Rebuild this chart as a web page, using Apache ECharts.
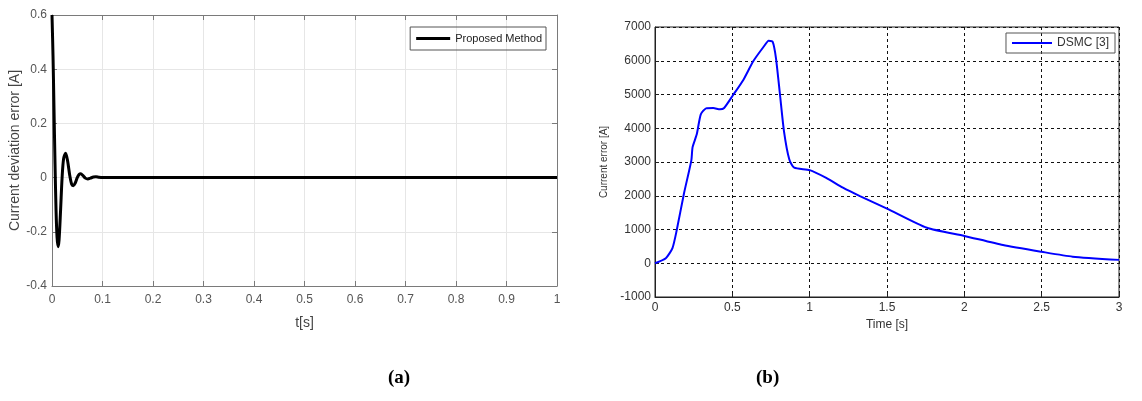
<!DOCTYPE html>
<html>
<head>
<meta charset="utf-8">
<script src="https://cdn.jsdelivr.net/npm/echarts@6/dist/echarts.min.js"></script>
<style>
  html, body { margin: 0; padding: 0; background: #fff; }
  #chart { width: 1142px; height: 401px; }
</style>
</head>
<body>
<div id="chart"></div>
<script>
// (a) proposed method: current deviation error vs time
var timeA = [0, 0.002, 0.004, 0.006, 0.008, 0.010, 0.012, 0.014, 0.017, 0.020, 0.023, 0.027, 0.031, 0.035, 0.039, 0.042, 0.046, 0.050, 0.054, 0.057, 0.061, 0.066, 0.071, 0.076, 0.082, 0.087, 0.093, 0.1, 1];
var errA = [0.6, 0.45, 0.25, 0.05, -0.12, -0.22, -0.255, -0.23, -0.12, 0.0, 0.07, 0.09, 0.06, 0.01, -0.025, -0.03, -0.02, 0.0, 0.012, 0.014, 0.008, -0.002, -0.005, -0.002, 0.002, 0.003, 0.001, 0, 0];

// (b) DSMC [3]: current error vs time
var timeB = [0, 0.07, 0.113, 0.14, 0.187, 0.235, 0.243, 0.27, 0.296, 0.33, 0.377, 0.42, 0.447, 0.503, 0.572, 0.636, 0.7, 0.735, 0.761, 0.782, 0.808, 0.834, 0.868, 0.9, 1.0, 1.107, 1.215, 1.325, 1.5, 1.758, 2.0, 2.25, 2.5, 2.7, 3.0];
var errB = [0, 150, 450, 970, 2060, 3050, 3440, 3820, 4410, 4590, 4600, 4560, 4600, 4970, 5440, 5990, 6400, 6590, 6560, 6080, 5000, 3910, 3080, 2830, 2760, 2530, 2240, 1990, 1620, 1050, 810, 540, 340, 195, 100];

var ticksA_x = [0, 0.1, 1];   // min, interval, max
var ticksA_y = [-0.4, 0.2, 0.6];
var ticksB_x = [0, 0.5, 3];
var ticksB_y = [-1000, 1000, 7000];

function pairs(xs, ys) {
  return xs.map(function (x, i) { return [x, ys[i]]; });
}
function plain(v) { return String(v); }

var narrow = "'Liberation Sans Narrow', 'Liberation Sans', Arial, sans-serif";
var sans = "'Liberation Sans', Arial, sans-serif";
var frameA = '#7a7a7a';

var chart = echarts.init(document.getElementById('chart'));

var option = {
  backgroundColor: '#fff',
  animation: false,
  legend: [{
    data: ['Proposed Method'],
    right: 596, top: 27,
    itemWidth: 34, itemHeight: 3, icon: 'rect',
    borderColor: '#555', borderWidth: 1, padding: [6, 4, 6, 6],
    textStyle: { fontFamily: narrow, fontSize: 11, color: '#222' }
  }, {
    data: ['DSMC [3]'],
    right: 27, top: 33,
    itemWidth: 40, itemHeight: 2, icon: 'rect',
    borderColor: '#555', borderWidth: 1, padding: [4, 6, 4, 6],
    textStyle: { fontFamily: sans, fontSize: 12, color: '#333' }
  }],
  grid: [
    { left: 52, top: 15, width: 505, height: 271, show: false },
    { left: 655, top: 27, width: 464, height: 270, show: true, borderColor: '#222', borderWidth: 1 }
  ],
  xAxis: [{
    gridIndex: 0, type: 'value',
    min: ticksA_x[0], interval: ticksA_x[1], max: ticksA_x[2],
    name: 't[s]', nameLocation: 'middle', nameGap: 30,
    nameTextStyle: { fontFamily: narrow, fontSize: 14, color: '#444' },
    axisLine: { onZero: false, lineStyle: { color: frameA } },
    axisTick: { inside: true, length: 5, lineStyle: { color: frameA } },
    axisLabel: { fontFamily: narrow, fontSize: 12, color: '#555', margin: 8, formatter: plain },
    splitLine: { show: true, lineStyle: { color: '#e6e6e6' } }
  }, {
    gridIndex: 0, type: 'value', position: 'top',
    min: ticksA_x[0], interval: ticksA_x[1], max: ticksA_x[2],
    axisLine: { show: true, onZero: false, lineStyle: { color: frameA } },
    axisTick: { show: true, inside: true, length: 5, lineStyle: { color: frameA } },
    axisLabel: { show: false }, splitLine: { show: false }
  }, {
    gridIndex: 1, type: 'value',
    min: ticksB_x[0], interval: ticksB_x[1], max: ticksB_x[2],
    name: 'Time [s]', nameLocation: 'middle', nameGap: 19,
    nameTextStyle: { fontFamily: sans, fontSize: 12, color: '#333' },
    axisLine: { onZero: false, lineStyle: { color: '#222' } },
    axisTick: { inside: true, length: 4, lineStyle: { color: '#222' } },
    axisLabel: { fontFamily: sans, fontSize: 12, color: '#333', margin: 5, formatter: plain },
    splitLine: { show: true, lineStyle: { color: '#111', type: [3, 3] } }
  }],
  yAxis: [{
    gridIndex: 0, type: 'value',
    min: ticksA_y[0], interval: ticksA_y[1], max: ticksA_y[2],
    name: 'Current deviation error [A]', nameLocation: 'middle', nameGap: 25,
    nameTextStyle: { fontFamily: narrow, fontSize: 14, color: '#444' },
    axisLine: { show: true, onZero: false, lineStyle: { color: frameA } },
    axisTick: { show: true, inside: true, length: 5, lineStyle: { color: frameA } },
    axisLabel: { fontFamily: narrow, fontSize: 12, color: '#555', margin: 5, formatter: plain },
    splitLine: { show: true, lineStyle: { color: '#e6e6e6' } }
  }, {
    gridIndex: 0, type: 'value', position: 'right',
    min: ticksA_y[0], interval: ticksA_y[1], max: ticksA_y[2],
    axisLine: { show: true, onZero: false, lineStyle: { color: frameA } },
    axisTick: { show: true, inside: true, length: 5, lineStyle: { color: frameA } },
    axisLabel: { show: false }, splitLine: { show: false }
  }, {
    gridIndex: 1, type: 'value',
    min: ticksB_y[0], interval: ticksB_y[1], max: ticksB_y[2],
    name: 'Current error [A]', nameLocation: 'middle', nameGap: 46,
    nameTextStyle: { fontFamily: sans, fontSize: 10, color: '#333' },
    axisLine: { show: true, onZero: false, lineStyle: { color: '#222' } },
    axisTick: { show: true, inside: true, length: 4, lineStyle: { color: '#222' } },
    axisLabel: { fontFamily: sans, fontSize: 12, color: '#333', margin: 4, formatter: plain },
    splitLine: { show: true, lineStyle: { color: '#111', type: [3, 3] } }
  }],
  series: [{
    name: 'Proposed Method', type: 'line',
    xAxisIndex: 0, yAxisIndex: 0,
    data: pairs(timeA, errA),
    smooth: 0.3, showSymbol: false,
    color: '#000',
    lineStyle: { color: '#000', width: 3 }
  }, {
    name: 'DSMC [3]', type: 'line',
    xAxisIndex: 2, yAxisIndex: 2,
    data: pairs(timeB, errB),
    smooth: 0.2, showSymbol: false,
    color: '#0000ff',
    lineStyle: { color: '#0000ff', width: 2 }
  }],
  graphic: [{
    type: 'text', left: 388, top: 369,
    style: { text: '(a)', font: 'bold 19px "Liberation Serif", serif', fill: '#000' }
  }, {
    type: 'text', left: 756, top: 369,
    style: { text: '(b)', font: 'bold 19px "Liberation Serif", serif', fill: '#000' }
  }]
};

chart.setOption(option);
</script>
</body>
</html>
